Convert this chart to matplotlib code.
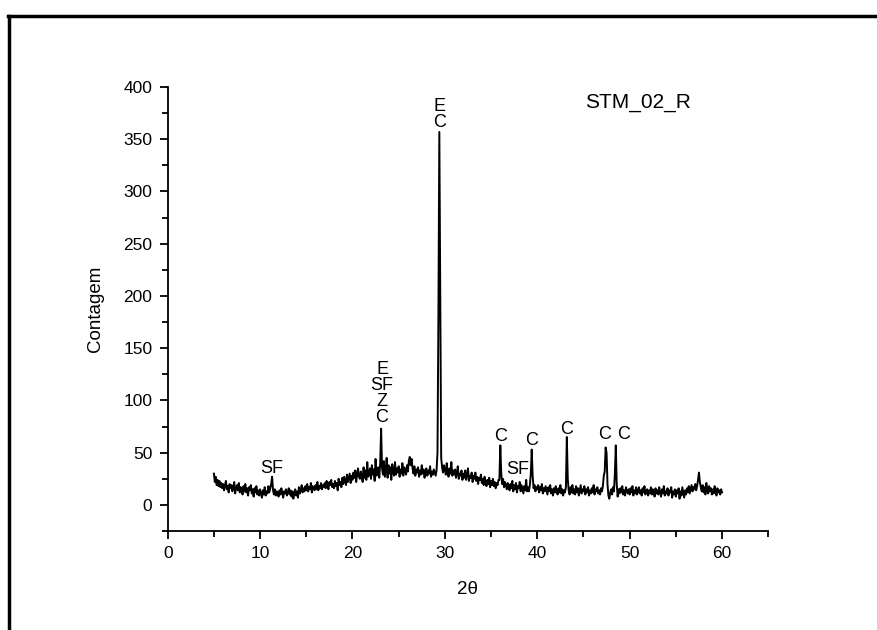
import matplotlib.pyplot as plt
import numpy as np
from matplotlib.lines import Line2D
from matplotlib.ticker import MultipleLocator

plt.rcParams['font.family'] = ['Liberation Sans', 'DejaVu Sans']

# 2theta from 5 to 60, step 0.1
two_theta = np.round(np.arange(5.0, 60.05, 0.1), 1)

counts = [
    30, 22, 27, 19, 24, 18, 23, 17, 21, 16,   # 5
    20, 14, 19, 23, 15, 18, 12, 20, 16, 19,   # 6
    13, 17, 22, 11, 16, 19, 14, 21, 12, 17,   # 7
    15, 10, 18, 13, 20, 12, 16, 9, 17, 14,    # 8
    19, 11, 15, 8, 16, 12, 18, 10, 14, 9,     # 9
    15, 11, 7, 14, 10, 17, 9, 13, 11, 18,     # 10
    12, 16, 20, 27, 14, 10, 15, 9, 13, 11,    # 11
    8, 14, 10, 16, 12, 7, 13, 11, 15, 9,      # 12
    12, 16, 10, 14, 8, 13, 6, 11, 15, 9,      # 13
    13, 7, 17, 11, 14, 19, 12, 16, 13, 18,    # 14
    14, 20, 13, 17, 15, 21, 12, 18, 16, 14,   # 15
    19, 15, 22, 14, 18, 16, 21, 15, 19, 17,   # 16
    21, 16, 23, 18, 15, 22, 19, 24, 17, 20,   # 17
    16, 23, 18, 21, 14, 25, 19, 22, 17, 26,   # 18
    20, 27, 23, 19, 29, 22, 26, 30, 21, 28,   # 19
    24, 31, 26, 33, 22, 29, 35, 27, 25, 32,   # 20
    28, 22, 36, 26, 33, 24, 41, 27, 30, 35,   # 21
    25, 38, 29, 34, 23, 44, 28, 31, 36, 26,   # 22
    40, 73, 35, 29, 42, 27, 33, 45, 26, 38,   # 23
    30, 36, 24, 39, 32, 28, 41, 29, 35, 31,   # 24
    37, 27, 34, 30, 40, 28, 36, 33, 29, 38,   # 25
    32, 42, 46, 38, 44, 35, 30, 37, 28, 34,   # 26
    31, 36, 27, 33, 29, 38, 30, 34, 26, 32,   # 27
    35, 28, 33, 30, 37, 27, 32, 29, 34, 31,   # 28
    28, 33, 50, 180, 357, 200, 45, 36, 31, 38,  # 29
    34, 29, 40, 31, 27, 35, 30, 41, 28, 33,   # 30
    29, 34, 26, 31, 37, 25, 30, 28, 33, 24,   # 31
    30, 26, 33, 24, 29, 35, 23, 28, 26, 31,   # 32
    22, 28, 25, 31, 23, 27, 20, 26, 24, 29,   # 33
    21, 25, 19, 27, 22, 18, 24, 20, 26, 17,   # 34
    23, 19, 25, 18, 22, 16, 21, 19, 24, 24,   # 35
    57, 30, 20, 25, 17, 22, 19, 15, 21, 18,   # 36
    14, 20, 16, 23, 13, 19, 15, 21, 12, 18,   # 37
    16, 22, 13, 19, 15, 11, 18, 14, 24, 13,   # 38
    17, 13, 19, 30, 53, 28, 16, 19, 13, 17,   # 39
    15, 19, 12, 17, 14, 20, 11, 16, 13, 18,   # 40
    14, 10, 17, 13, 19, 11, 15, 9, 16, 12,    # 41
    18, 13, 10, 16, 12, 19, 11, 15, 9, 14,    # 42
    12, 17, 65, 25, 14, 10, 17, 12, 19, 11,   # 43
    15, 10, 18, 12, 16, 9, 14, 19, 11, 15,    # 44
    13, 18, 10, 15, 12, 17, 9, 14, 11, 16,    # 45
    12, 19, 10, 15, 13, 17, 11, 14, 10, 16,   # 46
    13, 18, 28, 32, 55, 50, 20, 9, 6, 12,     # 47
    15, 10, 17, 13, 30, 57, 20, 8, 15, 11,    # 48
    16, 12, 18, 10, 14, 9, 17, 13, 11, 15,    # 49
    10, 16, 12, 18, 9, 14, 11, 17, 10, 13,    # 50
    17, 11, 14, 9, 16, 12, 18, 10, 13, 15,    # 51
    9, 14, 11, 17, 10, 15, 12, 8, 16, 11,     # 52
    14, 10, 17, 12, 8, 15, 11, 18, 9, 13,     # 53
    11, 16, 9, 14, 12, 17, 7, 13, 10, 15,     # 54
    8, 14, 11, 16, 6, 13, 9, 17, 12, 7,       # 55
    14, 10, 16, 12, 18, 11, 15, 19, 13, 17,   # 56
    15, 20, 14, 18, 24, 31, 22, 17, 13, 19,   # 57
    12, 17, 10, 21, 14, 11, 18, 13, 16, 10,   # 58
    15, 11, 18, 13, 9, 16, 12, 14, 10, 15,    # 59
    12,                                       # 60
]

# phase labels: (x, y, text)
peak_labels = [
    (11.3, 27, "SF"),
    (23.2, 76, "E\nSF\nZ\nC"),
    (29.4, 358, "E\nC"),
    (36.0, 57, "C"),
    (37.9, 26, "SF"),
    (39.4, 54, "C"),
    (43.2, 64, "C"),
    (47.3, 59, "C"),
    (49.3, 59, "C"),
]

fig = plt.figure(figsize=(8.78, 6.3), dpi=100)
ax = fig.add_axes([0.191, 0.157, 0.684, 0.705])

ax.plot(two_theta, counts, color='black', linewidth=1.4)

for x, y, txt in peak_labels:
    ax.text(x, y, txt, ha='center', va='bottom', fontsize=13, linespacing=0.92)

ax.text(45.2, 385, "STM_02_R", ha='left', va='center', fontsize=15)

ax.set_xlim(0, 65)
ax.set_ylim(-25, 400)
ax.xaxis.set_major_locator(MultipleLocator(10))
ax.xaxis.set_minor_locator(MultipleLocator(5))
ax.yaxis.set_major_locator(MultipleLocator(50))
ax.yaxis.set_minor_locator(MultipleLocator(25))

ax.spines['top'].set_visible(False)
ax.spines['right'].set_visible(False)
ax.spines['left'].set_linewidth(1.3)
ax.spines['bottom'].set_linewidth(1.3)
ax.tick_params(which='major', direction='out', length=6, width=1.3, labelsize=12.5, pad=5)
ax.tick_params(which='minor', direction='out', length=4, width=1.3)

ax.set_xlabel("2θ", fontsize=13.5, labelpad=14)
ax.set_ylabel("Contagem", fontsize=13.5, labelpad=14)

# outer frame (top and left)
fig.add_artist(Line2D([9.5 / 878, 9.5 / 878], [0, 1 - 15.5 / 630], color='black', linewidth=2.5))
fig.add_artist(Line2D([8 / 878, 1], [1 - 15.5 / 630, 1 - 15.5 / 630], color='black', linewidth=2.5))

fig.savefig('out.png', dpi=100)
